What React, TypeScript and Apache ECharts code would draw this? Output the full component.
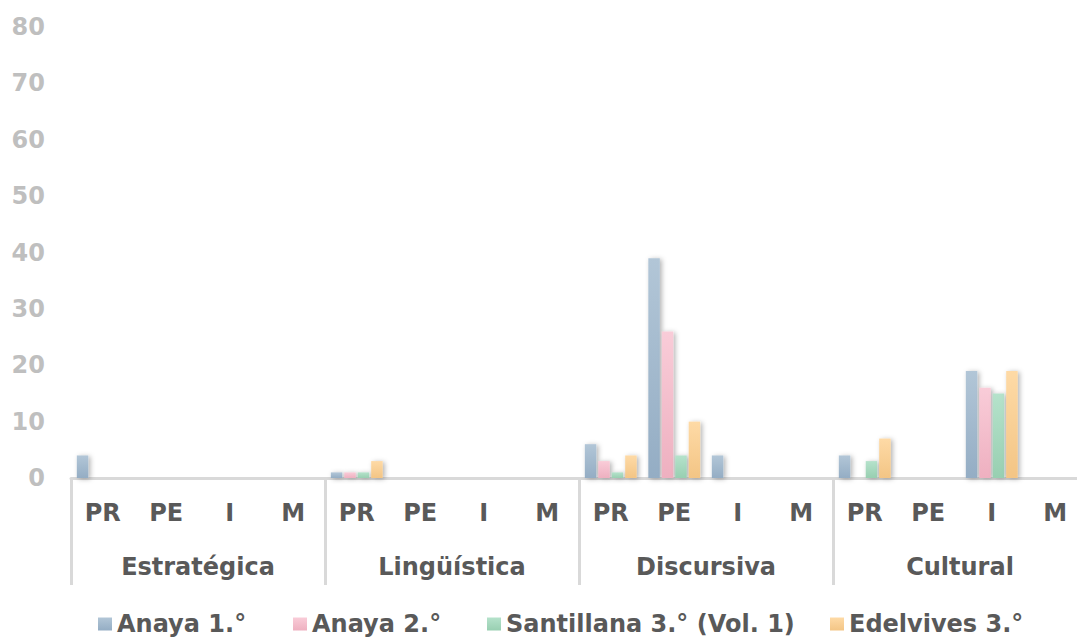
import React, { useEffect, useRef } from "react";
import * as echarts from "echarts";

const groups = ["Estratégica", "Lingüística", "Discursiva", "Cultural"];
const subCategories = ["PR", "PE", "I", "M"];
const seriesNames = ["Anaya 1.°", "Anaya 2.°", "Santillana 3.° (Vol. 1)", "Edelvives 3.°"];

// order: Estratégica PR PE I M, Lingüística PR PE I M, Discursiva ..., Cultural ...
const anaya1 = [4, 0, 0, 0, 1, 0, 0, 0, 6, 39, 4, 0, 4, 0, 19, 0];
const anaya2 = [0, 0, 0, 0, 1, 0, 0, 0, 3, 26, 0, 0, 0, 0, 16, 0];
const santillana3 = [0, 0, 0, 0, 1, 0, 0, 0, 1, 4, 0, 0, 3, 0, 15, 0];
const edelvives3 = [0, 0, 0, 0, 3, 0, 0, 0, 4, 10, 0, 0, 7, 0, 19, 0];

const yTicks = [0, 10, 20, 30, 40, 50, 60, 70, 80];

const FONT = "DejaVu Sans";

export default function App() {
  const ref = useRef<HTMLDivElement>(null);
  useEffect(() => {
    if (!ref.current) return;
    const chart = echarts.init(ref.current, undefined, { renderer: "svg" });
    const xData = groups.flatMap(() => subCategories);
    const values = [anaya1, anaya2, santillana3, edelvives3];
    const colors = [
      ["#b2c6d7", "#94adc4"],
      ["#f9ccd8", "#eeb0c0"],
      ["#b5e2cb", "#98cfb1"],
      ["#fedaa6", "#f3c585"],
    ];
    const legendLefts = [98, 293, 487, 830];
    const option: any = {
      animation: false,
      backgroundColor: "#ffffff",
      grid: { left: 71, top: 27, height: 451, width: 1016, containLabel: false },
      legend: seriesNames.map((n, i) => ({
        data: [n],
        left: legendLefts[i],
        top: 611,
        padding: 0,
        icon: "rect",
        itemWidth: 14,
        itemHeight: 13,
        selectedMode: false,
        textStyle: {
          fontFamily: FONT,
          fontWeight: "bold",
          fontSize: 24,
          lineHeight: 26,
          color: "#595959",
        },
      })),
      xAxis: [
        {
          type: "category",
          data: xData,
          position: "bottom",
          axisLine: { show: true, lineStyle: { color: "#d9d9d9", width: 3 } },
          axisTick: { show: false },
          axisLabel: {
            interval: 0,
            margin: 23,
            fontFamily: FONT,
            fontWeight: "bold",
            fontSize: 24,
            color: "#595959",
          },
        },
        {
          type: "category",
          data: groups,
          position: "bottom",
          offset: 0,
          axisLine: { show: false },
          axisTick: {
            show: true,
            interval: 0,
            length: 107,
            lineStyle: { color: "#d9d9d9", width: 3 },
          },
          axisLabel: {
            interval: 0,
            margin: 77,
            fontFamily: FONT,
            fontWeight: "bold",
            fontSize: 24,
            color: "#595959",
          },
        },
      ],
      yAxis: {
        type: "value",
        min: yTicks[0],
        max: yTicks[yTicks.length - 1],
        interval: 10,
        axisLine: { show: false },
        axisTick: { show: false },
        splitLine: { show: false },
        axisLabel: {
          margin: 26,
          fontFamily: FONT,
          fontWeight: "bold",
          fontSize: 24,
          color: "#bfbfbf",
        },
      },
      series: seriesNames.map((n, i) => ({
        name: n,
        type: "bar",
        xAxisIndex: 0,
        data: values[i],
        barWidth: 11.5,
        barGap: "17%",
        itemStyle: {
          color: new echarts.graphic.LinearGradient(0, 0, 0, 1, [
            { offset: 0, color: colors[i][0] },
            { offset: 1, color: colors[i][1] },
          ]),
          shadowBlur: 5,
          shadowOffsetX: 2,
          shadowOffsetY: 1,
          shadowColor: "rgba(0,0,0,0.3)",
        },
      })),
    };
    chart.setOption(option);
    return () => chart.dispose();
  }, []);
  return (
    <div
      style={{
        position: "absolute",
        left: 0,
        top: 0,
        width: 1077,
        height: 639,
        overflow: "hidden",
        background: "#ffffff",
      }}
    >
      <div ref={ref} style={{ width: 1100, height: 639 }} />
    </div>
  );
}
